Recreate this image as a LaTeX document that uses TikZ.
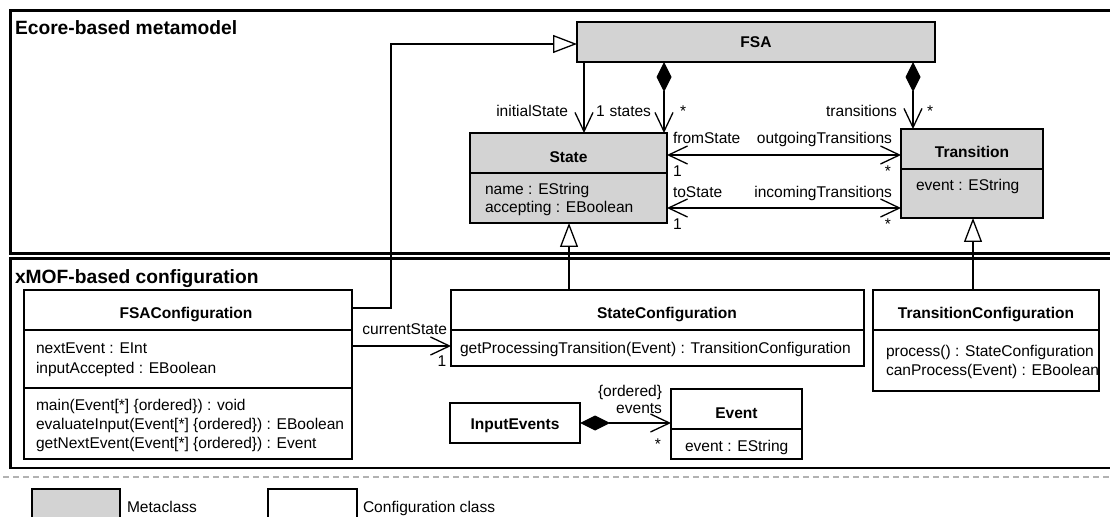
\documentclass[tikz,border=0pt]{standalone}
\usepackage{fontspec}
\setmainfont{Liberation Sans}
\usetikzlibrary{arrows.meta}
\definecolor{metagray}{RGB}{211,211,211}
\definecolor{dashgray}{RGB}{178,178,178}
\begin{document}
\begin{tikzpicture}[x=1bp,y=-1bp,
  every node/.style={inner sep=0pt, outer sep=0pt, font=\fontsize{15.6}{18}\selectfont},
  frameline/.style={line width=2.8bp, line join=miter},
  cls/.style={draw, line width=1.4bp, anchor=north west},
  metacls/.style={cls, fill=metagray},
  confcls/.style={cls, fill=white},
  divline/.style={line width=1.4bp},
  conn/.style={line width=1.3bp},
  nav/.style={conn, -{Straight Barb[length=19bp,width=18bp]}},
  bidir/.style={conn, {Straight Barb[length=19bp,width=18bp]}-{Straight Barb[length=19bp,width=18bp]}},
  gen/.style={conn, -{Triangle[length=24bp,width=18bp,fill=white]}},
  comp/.style={conn, {Diamond[length=30bp,width=15bp]}-{Straight Barb[length=19bp,width=18bp]}},
  hd/.style={anchor=base west, font=\fontsize{19.3}{22}\selectfont\bfseries},
  ttl/.style={anchor=base, font=\fontsize{15.6}{18}\selectfont\bfseries},
  txt/.style={anchor=base west},
  txte/.style={anchor=base east},
  txtc/.style={anchor=base}
]
\useasboundingbox (0,0) rectangle (1110,517);

% frames
\draw[frameline] (1115,10.7) -- (10.3,10.7) -- (10.3,253.3) -- (1115,253.3);
\draw[frameline] (1115,258.7) -- (10.3,258.7) -- (10.3,468) -- (1115,468);
\node[hd] (hdecore) at (15,35) {Ecore-based metamodel};
\node[hd] (hdxmof) at (15,284) {xMOF-based configuration};

% dashed separator
\draw[dashgray, line width=1.5bp, dash pattern=on 6bp off 4bp] (3,477) -- (1110,477);

% metaclasses
\node[metacls, minimum width=358bp, minimum height=40bp] (fsa) at (577,22) {};
\node[ttl] (fsat) at (756,48) {FSA};

\node[metacls, minimum width=197bp, minimum height=90bp] (state) at (470,133) {};
\draw[divline] ([yshift=-40bp]state.north west) -- ([yshift=-40bp]state.north east);
\node[ttl] (statet) at (568.5,163) {State};
\node[txt] (statea1) at (485,195) {name : EString};
\node[txt] (statea2) at (485,213) {accepting : EBoolean};

\node[metacls, minimum width=142bp, minimum height=89bp] (trans) at (901,129) {};
\draw[divline] ([yshift=-40bp]trans.north west) -- ([yshift=-40bp]trans.north east);
\node[ttl] (transt) at (972,158) {Transition};
\node[txt] (transa1) at (916,191) {event : EString};

% configuration classes
\node[confcls, minimum width=328bp, minimum height=169bp] (fconf) at (24,290) {};
\draw[divline] ([yshift=-40bp]fconf.north west) -- ([yshift=-40bp]fconf.north east);
\draw[divline] ([yshift=-98bp]fconf.north west) -- ([yshift=-98bp]fconf.north east);
\node[ttl] (fconft) at (186,319) {FSAConfiguration};
\node[txt] (fconfa1) at (36,354) {nextEvent : EInt};
\node[txt] (fconfa2) at (36,374) {inputAccepted : EBoolean};
\node[txt] (fconfo1) at (36,410) {main(Event[*] \{ordered\}) : void};
\node[txt] (fconfo2) at (36,429) {evaluateInput(Event[*] \{ordered\}) : EBoolean};
\node[txt] (fconfo3) at (36,448) {getNextEvent(Event[*] \{ordered\}) : Event};

\node[confcls, minimum width=413bp, minimum height=76bp] (sconf) at (451,290) {};
\draw[divline] ([yshift=-40bp]sconf.north west) -- ([yshift=-40bp]sconf.north east);
\node[ttl] (sconft) at (667,319) {StateConfiguration};
\node[txt] (sconfo1) at (460,354) {getProcessingTransition(Event) : TransitionConfiguration};

\node[confcls, minimum width=226bp, minimum height=101bp] (tconf) at (873,290) {};
\draw[divline] ([yshift=-40bp]tconf.north west) -- ([yshift=-40bp]tconf.north east);
\node[ttl] (tconft) at (986,319) {TransitionConfiguration};
\node[txt] (tconfo1) at (886,357) {process() : StateConfiguration};
\node[txt] (tconfo2) at (886,376) {canProcess(Event) : EBoolean};

\node[confcls, minimum width=130bp, minimum height=40bp] (inev) at (450,403) {};
\node[ttl] (inevt) at (515,429) {InputEvents};

\node[confcls, minimum width=131bp, minimum height=70bp] (event) at (671,389) {};
\draw[divline] ([yshift=-40bp]event.north west) -- ([yshift=-40bp]event.north east);
\node[ttl] (eventt) at (736.5,418) {Event};
\node[txt] (eventa1) at (685,451) {event : EString};

% helper coordinates
\coordinate (xi) at (584,0);
\coordinate (xs) at (664,0);
\coordinate (xt) at (913,0);
\coordinate (y1) at (0,155);
\coordinate (y2) at (0,208);
\coordinate (xsg) at (569,0);
\coordinate (xtg) at (973,0);
\coordinate (bend) at (391,308);
\coordinate (yfsa) at (0,44);
\coordinate (yc) at (0,346);

% connectors
\draw[nav] (fsa.south -| xi) -- (state.north -| xi);
\draw[comp] (fsa.south -| xs) -- (state.north -| xs);
\draw[comp] (fsa.south -| xt) -- (trans.north -| xt);
\draw[bidir] (state.east |- y1) -- (trans.west |- y1);
\draw[bidir] (state.east |- y2) -- (trans.west |- y2);
\draw[gen] (sconf.north -| xsg) -- (state.south -| xsg);
\draw[gen] (tconf.north -| xtg) -- (trans.south -| xtg);
\draw[gen] (fconf.east |- bend) -- (bend) -- (bend |- yfsa) -- (fsa.west |- yfsa);
\draw[nav] (fconf.east |- yc) -- (sconf.west |- yc);
\draw[comp] (inev.east) -- (event.west |- inev.east);

% association labels
\node[txte] (linit) at (568,117) {initialState};
\node[txt] (linitm) at (596,117) {1};
\node[txte] (lstates) at (651,117) {states};
\node[txt] (lstatesm) at (680,117) {*};
\node[txte] (ltrans) at (897,117) {transitions};
\node[txt] (ltransm) at (927,117) {*};
\node[txt] (lfrom) at (673,144) {fromState};
\node[txte] (lout) at (892,144) {outgoingTransitions};
\node[txt] (lfromm) at (673,177) {1};
\node[txtc] (loutm) at (888,177) {*};
\node[txt] (lto) at (673,198) {toState};
\node[txte] (linc) at (892,198) {incomingTransitions};
\node[txt] (ltom) at (673,230) {1};
\node[txtc] (lincm) at (888,230) {*};
\node[txte] (lcur) at (447,335) {currentState};
\node[txtc] (lcurm) at (442,367) {1};
\node[txte] (lord) at (662,396.5) {\{ordered\}};
\node[txte] (lev) at (662,413.5) {events};
\node[txtc] (levm) at (658,449) {*};

% legend
\node[cls, fill=metagray, minimum width=88bp, minimum height=40bp] (legmeta) at (32,489) {};
\node[txt] (legmetat) at (127,512) {Metaclass};
\node[cls, fill=white, minimum width=89bp, minimum height=40bp] (legconf) at (268,489) {};
\node[txt] (legconft) at (363,512) {Configuration class};
\end{tikzpicture}
\end{document}
